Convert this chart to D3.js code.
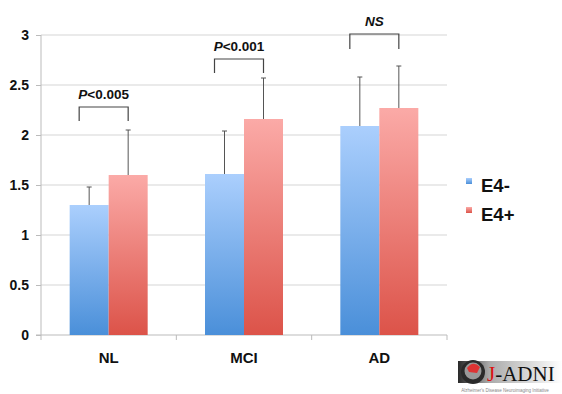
<!DOCTYPE html>
<html><head><meta charset="utf-8">
<script src="https://cdn.jsdelivr.net/npm/d3@7"></script>
<style>body{margin:0;background:#fff}svg{display:block}</style>
</head><body>
<script>
const categories = ["NL","MCI","AD"];
const seriesNames = ["E4-","E4+"];
const e4neg = [1.30,1.61,2.09];
const e4negErr = [0.18,0.43,0.49];
const e4pos = [1.60,2.16,2.27];
const e4posErr = [0.45,0.41,0.42];
const pLabels = ["P<0.005","P<0.001","NS"];
const bracketTop = [2.28,2.76,3.01];
const bracketBottom = [2.14,2.62,2.86];
const yTicks = [0,0.5,1,1.5,2,2.5,3];
const yTickLabels = ["0","0.5","1","1.5","2","2.5","3"];

const W=562,H=394;
const SANS='"Liberation Sans",Arial,sans-serif';
const svg=d3.select("body").append("svg").attr("width",W).attr("height",H).attr("font-family",SANS);
const defs=svg.append("defs");
function grad(id,top,bot){const g=defs.append("linearGradient").attr("id",id).attr("x1",0).attr("y1",0).attr("x2",0).attr("y2",1);
g.append("stop").attr("offset","0%").attr("stop-color",top);g.append("stop").attr("offset","100%").attr("stop-color",bot);}
grad("gb","#abcffd","#4a8fd9");grad("gr","#fbaaa7","#dc5349");

const x0=d3.scaleBand().domain(categories).range([41,447]);
const x1=d3.scaleBand().domain(seriesNames).range([x0.bandwidth()/2-39,x0.bandwidth()/2+39]);
const y=d3.scaleLinear().domain([0,3]).range([335,35]);

// gridlines
svg.append("g").selectAll("line").data(yTicks.filter(d=>d>0)).join("line")
 .attr("x1",41).attr("x2",447).attr("y1",d=>y(d)).attr("y2",d=>y(d)).attr("stroke","#d6d6d6").attr("stroke-width",1.2);

// y axis
const ya=svg.append("g").attr("transform","translate(41,0)").call(d3.axisLeft(y).tickValues(yTicks).tickFormat((d,i)=>yTickLabels[i]).tickSize(5).tickPadding(7));
ya.attr("font-family",SANS);
ya.select(".domain").attr("stroke","#bbb").attr("d","M0,"+y(3)+"V"+y(0));
ya.selectAll(".tick line").attr("stroke","#bbb");
ya.selectAll("text").attr("font-size",14).attr("font-weight","bold").attr("fill","#111");

// x axis
const xa=svg.append("g").attr("transform","translate(0,335)");
xa.append("line").attr("x1",36).attr("x2",447).attr("y1",0).attr("y2",0).attr("stroke","#bbb").attr("stroke-width",1.2);
xa.selectAll(".tk").data(categories.concat(["_end"])).join("line").attr("class","tk")
 .attr("x1",(d,i)=>i<3?x0(d):447).attr("x2",(d,i)=>i<3?x0(d):447).attr("y1",0).attr("y2",5).attr("stroke","#bbb");
xa.selectAll("text").data(categories).join("text").attr("x",d=>x0(d)+x0.bandwidth()/2).attr("y",28)
 .attr("text-anchor","middle").attr("font-size",15).attr("font-weight","bold").attr("fill","#111").text(d=>d);

const series=[{name:"E4-",vals:e4neg,err:e4negErr,fill:"url(#gb)"},{name:"E4+",vals:e4pos,err:e4posErr,fill:"url(#gr)"}];
series.forEach(s=>{
 const g=svg.append("g");
 g.selectAll("rect").data(categories).join("rect").attr("x",d=>x0(d)+x1(s.name)).attr("width",x1.bandwidth())
  .attr("y",(d,i)=>y(s.vals[i])).attr("height",(d,i)=>y(0)-y(s.vals[i])).attr("fill",s.fill);
 const cx=d=>x0(d)+x1(s.name)+x1.bandwidth()/2;
 g.selectAll(".ev").data(categories).join("line").attr("class","ev").attr("x1",cx).attr("x2",cx)
  .attr("y1",(d,i)=>y(s.vals[i])).attr("y2",(d,i)=>y(s.vals[i]+s.err[i])).attr("stroke","#555").attr("stroke-width",1);
 g.selectAll(".ec").data(categories).join("line").attr("class","ec").attr("x1",d=>cx(d)-2.5).attr("x2",d=>cx(d)+2.5)
  .attr("y1",(d,i)=>y(s.vals[i]+s.err[i])).attr("y2",(d,i)=>y(s.vals[i]+s.err[i])).attr("stroke","#555").attr("stroke-width",1);
});

// brackets
const bg=svg.append("g");
categories.forEach((c,i)=>{
 const xl=x0(c)+x1("E4-")+x1.bandwidth()/2-10, xr=x0(c)+x1("E4+")+x1.bandwidth()/2;
 bg.append("path").attr("d",`M${xl},${y(bracketBottom[i])}V${y(bracketTop[i])}H${xr}V${y(bracketBottom[i])}`)
  .attr("fill","none").attr("stroke","#444").attr("stroke-width",1.2);
 const t=bg.append("text").attr("x",(xl+xr)/2).attr("y",y(bracketTop[i])-8).attr("text-anchor","middle")
  .attr("font-size",13.5).attr("font-weight","bold").attr("fill","#111");
 const lab=pLabels[i];
 if(lab.startsWith("P")){t.append("tspan").attr("font-style","italic").text("P");t.append("tspan").text(lab.slice(1));}
 else t.append("tspan").attr("font-style","italic").text(lab);
});

// legend
const lg=svg.append("g");
series.forEach((s,i)=>{
 lg.append("rect").attr("x",466).attr("y",178+i*29).attr("width",6).attr("height",6).attr("fill",s.fill);
 lg.append("text").attr("x",481).attr("y",192+i*29).attr("font-size",18.5).attr("font-weight","bold").attr("fill","#111").text(s.name);
});

// logo
const lo=svg.append("g");
defs.append("linearGradient").attr("id","lgbg").attr("x1",0).attr("x2",1).call(g=>{
 g.append("stop").attr("offset","0%").attr("stop-color","#2a2a2a");g.append("stop").attr("offset","30%").attr("stop-color","#aaa");g.append("stop").attr("offset","100%").attr("stop-color","#fff");});
lo.append("rect").attr("x",458).attr("y",361).attr("width",104).attr("height",22).attr("fill","url(#lgbg)");
lo.append("circle").attr("cx",473).attr("cy",372).attr("r",12).attr("fill","#2a2a2a");
lo.append("circle").attr("cx",473).attr("cy",371).attr("r",8.5).attr("fill","#999");
lo.append("path").attr("d","M467,368 Q473,360 480,367 L477,373 L469,372Z").attr("fill","#d33");
const lt=lo.append("text").attr("x",487).attr("y",381).attr("font-family",'"Liberation Serif","DejaVu Serif",serif').attr("font-size",21).attr("fill","#111");
lt.append("tspan").attr("fill","#d11").text("J");lt.append("tspan").text("-ADNI");
lo.append("text").attr("x",505).attr("y",392).attr("text-anchor","middle").attr("font-size",4.5).attr("fill","#888").text("Alzheimer's Disease Neuroimaging Initiative");
</script>
</body></html>
